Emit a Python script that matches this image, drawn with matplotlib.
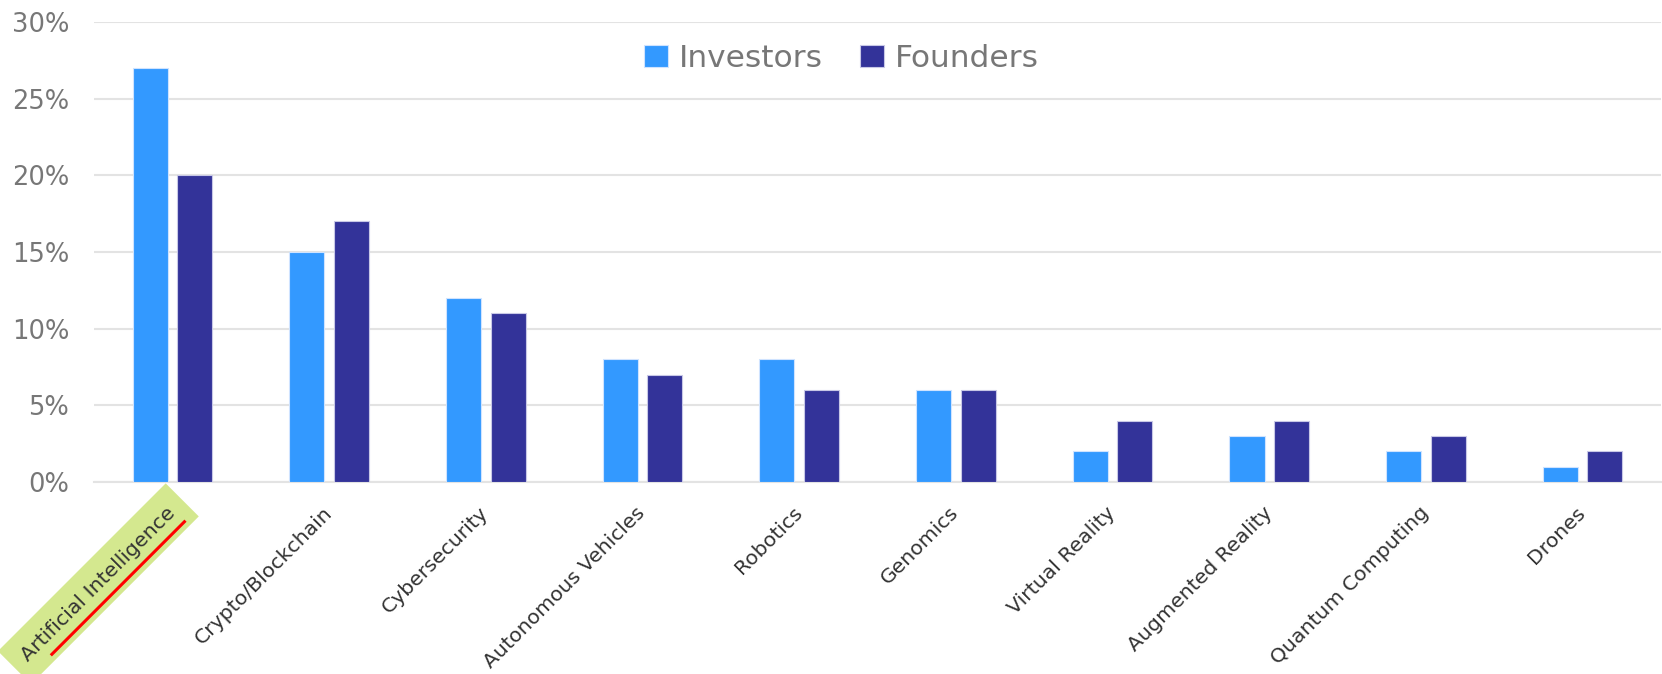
import numpy as np
import matplotlib
matplotlib.use('Agg')
import matplotlib.pyplot as plt
from matplotlib.lines import Line2D

# survey data (share of respondents)
categories = ['Artificial Intelligence', 'Crypto/Blockchain', 'Cybersecurity',
              'Autonomous Vehicles', 'Robotics', 'Genomics', 'Virtual Reality',
              'Augmented Reality', 'Quantum Computing', 'Drones']
investors = [27, 15, 12, 8, 8, 6, 2, 3, 2, 1]
founders = [20, 17, 11, 7, 6, 6, 4, 4, 3, 2]
yticks = [0, 5, 10, 15, 20, 25, 30]
highlight = 'Artificial Intelligence'

plt.rcParams['font.family'] = ['DejaVu Sans']

fig = plt.figure(figsize=(16.62, 6.74), dpi=100)
ax = fig.add_axes([0.0566, 0.285, 0.9428, 0.682])

x = np.arange(len(categories))
w = 0.224
off = 0.142
ax.bar(x - off, np.array(investors) / 100, w, color='#3399ff',
       edgecolor='#cfe3ff', linewidth=0.8, label='Investors', zorder=3)
ax.bar(x + off, np.array(founders) / 100, w, color='#333399',
       edgecolor='#c8c8e6', linewidth=0.8, label='Founders', zorder=3)

ax.set_xlim(-0.5, len(categories) - 0.5)
ax.set_ylim(0, 0.30)
ax.set_yticks([t / 100 for t in yticks])
ax.set_yticklabels([f'{t}%' for t in yticks], fontsize=18.5, color='#777777')
ax.grid(axis='y', color='#e3e3e3', linewidth=1.5, zorder=0)
for s in ['top', 'right', 'left']:
    ax.spines[s].set_visible(False)
ax.spines['bottom'].set_color('#e3e3e3')
ax.spines['bottom'].set_linewidth(1.5)
ax.tick_params(axis='y', length=0, pad=18)
ax.tick_params(axis='x', length=0, pad=20)

ax.set_xticks(x)
ax.set_xticklabels(categories, rotation=45, ha='right', va='center',
                   rotation_mode='anchor', fontsize=14.7, color='#333333')

leg = ax.legend(loc='upper center', bbox_to_anchor=(0.477, 1.014), ncol=2,
                frameon=False, fontsize=22.5, handlelength=0.75, handleheight=0.75,
                handletextpad=0.35, columnspacing=1.2, labelcolor='#777777')

# highlight the leading category
for lbl in ax.get_xticklabels():
    if lbl.get_text() == highlight:
        lbl.set_bbox(dict(facecolor='#d4e88f', edgecolor='none', pad=10))
        fig.canvas.draw()
        ext = lbl.get_window_extent()
        W, H = fig.bbox.width, fig.bbox.height
        u = np.array([1.0, 1.0]) / np.sqrt(2)
        n = np.array([1.0, -1.0]) / np.sqrt(2)
        c = np.array([(ext.x0 + ext.x1) / 2, (ext.y0 + ext.y1) / 2]) + 17 * n + 11 * u
        half = 0.58 * ext.width
        p0 = c - half * u
        p1 = c + half * u
        fig.add_artist(Line2D([p0[0] / W, p1[0] / W], [p0[1] / H, p1[1] / H],
                              color='#ff0000', linewidth=2.2,
                              transform=fig.transFigure))

fig.savefig('out.png', dpi=100)
